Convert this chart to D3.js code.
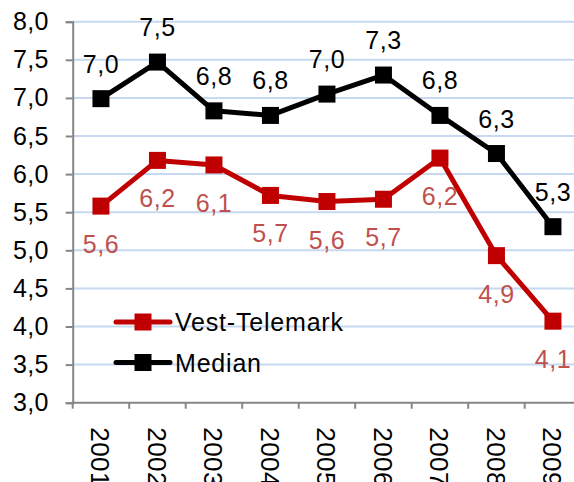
<!DOCTYPE html>
<html>
<head>
<meta charset="utf-8">
<script src="https://cdn.jsdelivr.net/npm/d3@7"></script>
<style>
  body { margin: 0; background: #fff; }
  svg { display: block; font-family: "Liberation Sans", Arial, sans-serif; }
</style>
</head>
<body>
<div id="chart"></div>
<script>
var years = ["2001", "2002", "2003", "2004", "2005", "2006", "2007", "2008", "2009"];
var vestTelemark = [5.58, 6.18, 6.12, 5.72, 5.64, 5.67, 6.21, 4.93, 4.07];
var median = [6.99, 7.47, 6.83, 6.77, 7.05, 7.30, 6.77, 6.27, 5.31];
var yTicks = [3.0, 3.5, 4.0, 4.5, 5.0, 5.5, 6.0, 6.5, 7.0, 7.5, 8.0];
var seriesNames = ["Vest-Telemark", "Median"];

var width = 574, height = 482;
var fontSize = 25;
var red = "#c00000", redLabel = "#c0504d", black = "#000000";
var fmt = function(d) { return d3.format(".1f")(d).replace(".", ","); };

var svg = d3.select("#chart").append("svg")
  .attr("width", width)
  .attr("height", height);

var x = d3.scaleBand().domain(years).range([72.7, 581.2]);
var y = d3.scaleLinear().domain([3, 8]).range([402.7, 21.7]);
var cx = function(i) { return x(years[i]) + x.bandwidth() / 2; };

// gridlines
svg.append("g").selectAll("line")
  .data(yTicks.filter(function(d) { return d > 3; }))
  .enter().append("line")
    .attr("x1", 73).attr("x2", width)
    .attr("y1", function(d) { return y(d); })
    .attr("y2", function(d) { return y(d); })
    .attr("stroke", "#c6d9f1")
    .attr("stroke-width", 2);

// y axis
var yAxis = svg.append("g")
  .attr("transform", "translate(72.7,0)")
  .call(d3.axisLeft(y).tickValues(yTicks).tickSize(7).tickPadding(17).tickFormat(fmt));
yAxis.selectAll("line, path").attr("stroke", "#868686").attr("stroke-width", 2);
yAxis.selectAll("text").attr("font-size", fontSize).attr("fill", "#000")
  .attr("letter-spacing", 0.3)
  .style("font-family", "Liberation Sans, Arial, sans-serif");

// x axis with ticks at category boundaries
var xAxis = svg.append("g").attr("transform", "translate(0,402.7)");
xAxis.append("line")
  .attr("x1", 72.7).attr("x2", width)
  .attr("stroke", "#868686").attr("stroke-width", 2);
xAxis.selectAll(".tk").data(years)
  .enter().append("line")
    .attr("x1", function(d) { return x(d); })
    .attr("x2", function(d) { return x(d); })
    .attr("y1", 0).attr("y2", 6)
    .attr("stroke", "#868686").attr("stroke-width", 2);
xAxis.selectAll("text").data(years)
  .enter().append("text")
    .attr("transform", function(d, i) { return "translate(" + (cx(i) - 9.5) + ",24.5) rotate(90)"; })
    .attr("font-size", 26)
    .attr("letter-spacing", 0.5)
    .text(function(d) { return d; });

function drawSeries(vals, colour, labelColour, labelDy) {
  var line = d3.line()
    .x(function(d, i) { return cx(i); })
    .y(function(d) { return y(d); });
  svg.append("path")
    .datum(vals)
    .attr("d", line)
    .attr("fill", "none")
    .attr("stroke", colour)
    .attr("stroke-width", 5)
    .attr("stroke-linejoin", "round");
  svg.append("g").selectAll("rect")
    .data(vals)
    .enter().append("rect")
      .attr("x", function(d, i) { return cx(i) - 8.5; })
      .attr("y", function(d) { return y(d) - 8.5; })
      .attr("width", 17).attr("height", 17)
      .attr("fill", colour);
  svg.append("g").selectAll("text")
    .data(vals)
    .enter().append("text")
      .attr("x", function(d, i) { return cx(i); })
      .attr("y", function(d) { return y(d) + labelDy; })
      .attr("text-anchor", "middle")
      .attr("dominant-baseline", "central")
      .attr("font-size", fontSize)
      .attr("letter-spacing", 0.6)
      .attr("fill", labelColour)
      .text(function(d) { return fmt(d); });
}

drawSeries(median, black, black, -35);
drawSeries(vestTelemark, red, redLabel, 38);

// legend
var legend = svg.append("g");
var legendColours = [red, black];
seriesNames.forEach(function(name, i) {
  var ly = 322 + i * 40.5;
  legend.append("line")
    .attr("x1", 116).attr("x2", 170)
    .attr("y1", ly).attr("y2", ly)
    .attr("stroke", legendColours[i]).attr("stroke-width", 5)
    .attr("stroke-linecap", "round");
  legend.append("rect")
    .attr("x", 143 - 8.5).attr("y", ly - 8.5)
    .attr("width", 17).attr("height", 17)
    .attr("fill", legendColours[i]);
  legend.append("text")
    .attr("x", 175).attr("y", ly)
    .attr("dominant-baseline", "central")
    .attr("font-size", fontSize)
    .attr("letter-spacing", 0.8)
    .text(name);
});
</script>
</body>
</html>
